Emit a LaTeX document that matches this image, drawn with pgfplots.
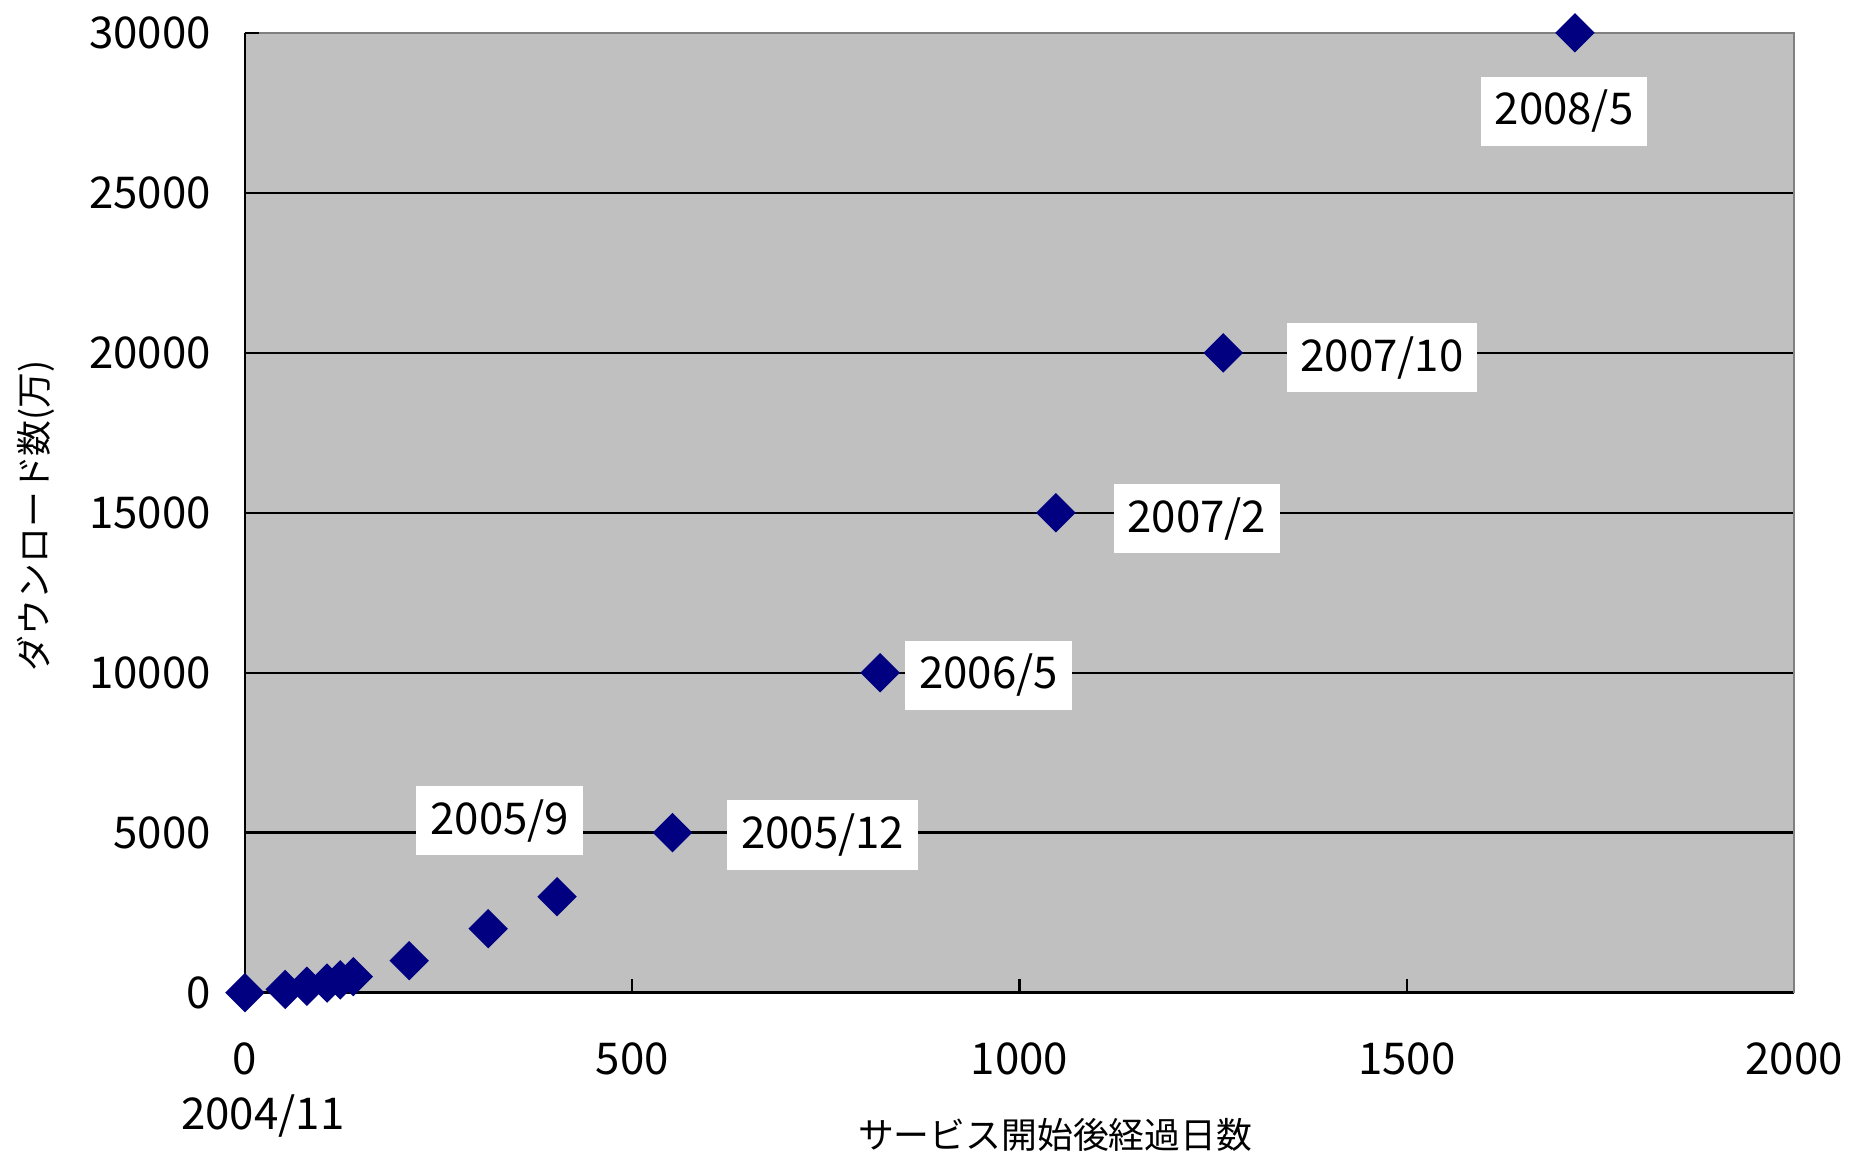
\documentclass[border=0pt]{standalone}
\usepackage{fontspec}
\setmainfont{Noto Sans CJK JP}
\usepackage{pgfplots}
\pgfplotsset{compat=1.18}
\definecolor{plotbg}{HTML}{C0C0C0}
\definecolor{navymark}{HTML}{000080}
\definecolor{bordergray}{HTML}{808080}
\tikzset{datalabel/.style={fill=white, text=black, inner xsep=3.5pt, minimum height=17pt,
    font=\fontsize{11}{13}\selectfont}}
\begin{document}
\begin{tikzpicture}
\begin{axis}[
  scale only axis, width=389pt, height=241pt,
  xmin=0, xmax=2000, ymin=0, ymax=30000,
  xtick={0,500,...,2000}, ytick={0,5000,...,30000},
  axis lines*=left,
  clip=false,
  axis background/.style={fill=plotbg},
  ymajorgrids, major grid style={black, line width=0.6pt},
  axis line style={black, line width=0.6pt},
  tick align=inside, major tick length=3.5pt,
  tick style={black, line width=0.6pt},
  scaled ticks=false,
  /pgf/number format/assume math mode=true,
  /pgf/number format/1000 sep={},
  tick label style={font=\fontsize{11}{13}\selectfont},
  yticklabel style={xshift=-5pt},
  xticklabel style={yshift=-9pt},
  label style={font=\fontsize{9}{11}\selectfont},
  xlabel={サービス開始後経過日数},
  xlabel style={at={(axis description cs:0.523,-0.148)}, anchor=center},
  ylabel={ダウンロード数(万)},
  ylabel style={at={(axis description cs:-0.135,0.497)}, anchor=center},
]
\draw[bordergray, line width=0.6pt] (rel axis cs:0,1) -- (rel axis cs:1,1) -- (rel axis cs:1,0);
\draw[black, line width=0.6pt] (rel axis cs:0,1) -- ++(3.5pt,0);
\addplot[only marks, mark=square*, mark size=3.3pt,
  mark options={rotate=45, fill=navymark, draw=navymark}] coordinates {
  (0,0) (52,100) (80,200) (106,300) (123,400) (140,500)
  (212,1000) (314,2000) (403,3000) (552,5000) (820,10000)
  (1047,15000) (1263,20000) (1717,30000)
};
\node[datalabel] at (axis cs:329,5370) {2005/9};
\node[datalabel] at (axis cs:746,4926) {2005/12};
\node[datalabel] at (axis cs:960,9926) {2006/5};
\node[datalabel] at (axis cs:1229,14815) {2007/2};
\node[datalabel] at (axis cs:1468,19852) {2007/10};
\node[datalabel] at (axis cs:1703,27555) {2008/5};
\node[font=\fontsize{11}{13}\selectfont] at ([xshift=4.5pt,yshift=-31pt]rel axis cs:0,0) {2004/11};
\coordinate (sw) at (rel axis cs:0,0);
\end{axis}
\path (sw) ++(-61.5pt,-39.25pt) rectangle ++(464pt,288.5pt);
\end{tikzpicture}
\end{document}
